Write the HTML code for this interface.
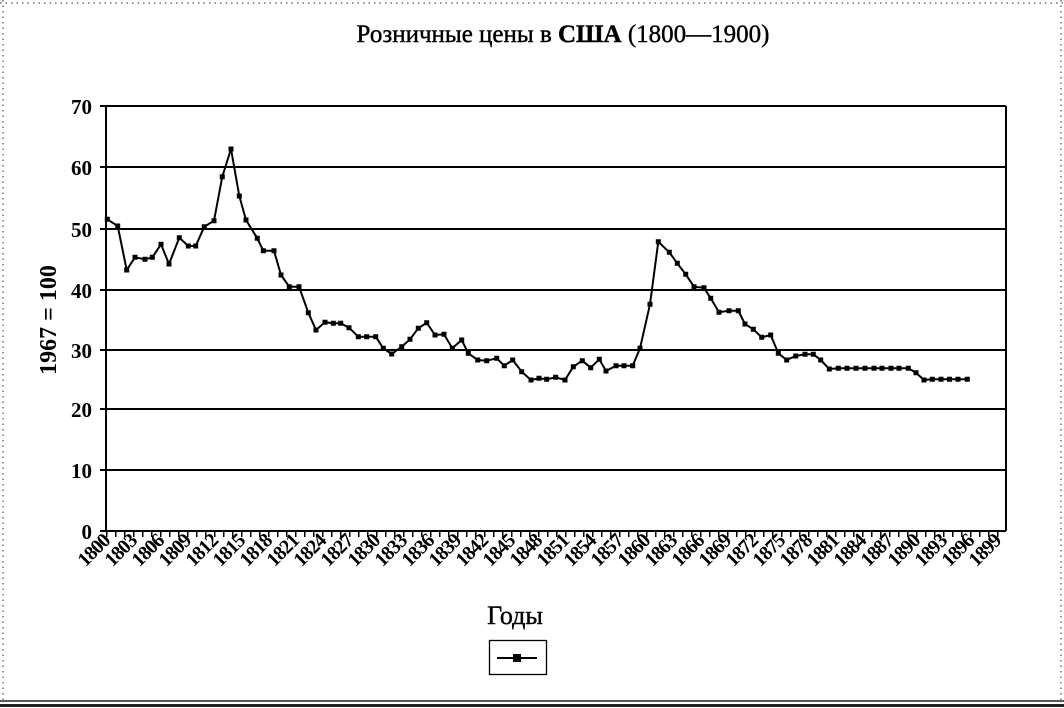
<!DOCTYPE html>
<html><head><meta charset="utf-8"><style>
html,body{margin:0;padding:0;background:#fff}
svg{display:block}
text{font-family:"Liberation Serif","DejaVu Serif",serif;fill:#000}
</style></head><body>
<svg width="1064" height="708" viewBox="0 0 1064 708" xmlns="http://www.w3.org/2000/svg">
<line x1="0" y1="3" x2="1064" y2="3" stroke="#555" stroke-width="1.2" stroke-dasharray="1.5 4"/>
<line x1="3" y1="0" x2="3" y2="700" stroke="#555" stroke-width="1.2" stroke-dasharray="1.5 4"/>
<line x1="1061" y1="0" x2="1061" y2="700" stroke="#555" stroke-width="1.2" stroke-dasharray="1.5 4"/>
<line x1="0" y1="701" x2="1064" y2="701" stroke="#222" stroke-width="1.5"/>
<line x1="0" y1="705.5" x2="1064" y2="705.5" stroke="#222" stroke-width="3"/>
<text x="563" y="42" font-size="25" text-anchor="middle" stroke="#000" stroke-width="0.4">Розничные цены в <tspan font-weight="bold">США</tspan> (1800—1900)</text>
<g stroke="#000" stroke-width="2">
<line x1="100" y1="106" x2="1006" y2="106"/>
<line x1="100" y1="167" x2="1006" y2="167"/>
<line x1="100" y1="229" x2="1006" y2="229"/>
<line x1="100" y1="290" x2="1006" y2="290"/>
<line x1="100" y1="350" x2="1006" y2="350"/>
<line x1="100" y1="409" x2="1006" y2="409"/>
<line x1="100" y1="470" x2="1006" y2="470"/>
<line x1="100" y1="531" x2="1006" y2="531"/>
<line x1="106" y1="106" x2="106" y2="531"/>
<line x1="1006" y1="106" x2="1006" y2="531"/>
</g>
<line x1="106" y1="534" x2="1006" y2="534" stroke="#000" stroke-width="6" stroke-dasharray="1.5 7.5"/>
<g font-size="21" font-weight="bold" text-anchor="end">
<text x="92" y="114">70</text><text x="92" y="175">60</text><text x="92" y="237">50</text>
<text x="92" y="298">40</text><text x="92" y="358">30</text><text x="92" y="417">20</text>
<text x="92" y="478">10</text><text x="92" y="539">0</text>
</g>
<text transform="translate(56,320) rotate(-90)" font-size="24" font-weight="bold" text-anchor="middle">1967 = 100</text>
<g font-size="20" font-weight="bold" text-anchor="end" letter-spacing="-1">
<text transform="translate(111,542) rotate(-45)">1800</text>
<text transform="translate(138,542) rotate(-45)">1803</text>
<text transform="translate(165,542) rotate(-45)">1806</text>
<text transform="translate(192,542) rotate(-45)">1809</text>
<text transform="translate(219,542) rotate(-45)">1812</text>
<text transform="translate(246,542) rotate(-45)">1815</text>
<text transform="translate(273,542) rotate(-45)">1818</text>
<text transform="translate(300,542) rotate(-45)">1821</text>
<text transform="translate(327,542) rotate(-45)">1824</text>
<text transform="translate(354,542) rotate(-45)">1827</text>
<text transform="translate(381,542) rotate(-45)">1830</text>
<text transform="translate(408,542) rotate(-45)">1833</text>
<text transform="translate(435,542) rotate(-45)">1836</text>
<text transform="translate(462,542) rotate(-45)">1839</text>
<text transform="translate(489,542) rotate(-45)">1842</text>
<text transform="translate(516,542) rotate(-45)">1845</text>
<text transform="translate(543,542) rotate(-45)">1848</text>
<text transform="translate(570,542) rotate(-45)">1851</text>
<text transform="translate(597,542) rotate(-45)">1854</text>
<text transform="translate(624,542) rotate(-45)">1857</text>
<text transform="translate(651,542) rotate(-45)">1860</text>
<text transform="translate(678,542) rotate(-45)">1863</text>
<text transform="translate(705,542) rotate(-45)">1866</text>
<text transform="translate(732,542) rotate(-45)">1869</text>
<text transform="translate(759,542) rotate(-45)">1872</text>
<text transform="translate(786,542) rotate(-45)">1875</text>
<text transform="translate(813,542) rotate(-45)">1878</text>
<text transform="translate(840,542) rotate(-45)">1881</text>
<text transform="translate(867,542) rotate(-45)">1884</text>
<text transform="translate(894,542) rotate(-45)">1887</text>
<text transform="translate(921,542) rotate(-45)">1890</text>
<text transform="translate(948,542) rotate(-45)">1893</text>
<text transform="translate(975,542) rotate(-45)">1896</text>
<text transform="translate(1002,542) rotate(-45)">1899</text>
</g>
<text x="515" y="624" font-size="26" text-anchor="middle" stroke="#000" stroke-width="0.4">Годы</text>
<rect x="489.5" y="640.5" width="57" height="34" fill="none" stroke="#000" stroke-width="1.3"/>
<line x1="497" y1="658" x2="537" y2="658" stroke="#000" stroke-width="2"/>
<rect x="513" y="654" width="8" height="8" fill="#000"/>
<polyline fill="none" stroke="#000" stroke-width="2" stroke-linejoin="round" points="107.3,219.3 117.7,226 126.7,270 135,257.3 145,259.3 152.3,257.3 161,244.3 169,264 179.3,237.7 188.3,246 195.7,246 204.3,226.7 214,220.7 222.3,176.7 231,149 239.3,196 246,220 257.3,238.3 263.3,250.7 274,250.7 281,275 289.3,286.7 299,286.7 308.3,312.7 316,330 325,322.3 333.3,323.3 340.7,323.3 349,327.7 358.3,336.7 366.7,336.7 375.7,336.7 383.3,348.3 391.7,354 401.7,346.7 410,339.3 418.3,328.3 426.7,322.7 435,335 444,334.3 452.3,348.3 461.7,340 468.3,353.3 477.7,360 486.7,360.7 496.7,358.3 504.3,365.7 512.7,360 521.7,371.7 531,380 539,378.3 546.7,379.3 555.7,377.3 565,380 573.3,366.7 582.3,360.7 590.7,367.7 599.3,359.3 606,371 616,365.7 624,365.7 632.7,365.7 640,348.3 650,304.3 658.3,241.7 669.3,252.3 677.3,263.3 685.7,274.3 694,286.7 704,287.7 710.7,298.3 719,312.3 729,310.7 738.3,310.7 745,324 753.3,329.3 761.7,337.3 770.7,335 778.3,353.3 786.7,360 795.7,356 805,354.3 813.3,354.3 820.7,360 829.3,369 838.3,368.3 847,368.3 856,368.3 865,368.3 874,368.3 882,368.3 891,368.3 899,368.3 908.3,368.3 916,372.7 924,380 932.3,379.3 941,379.3 949.5,379.3 958,379.3 967.3,379.3"/>
<path fill="#000" transform="translate(0.5,0.5)" d="M104.3,216.3h5v5h-5zM114.7,223h5v5h-5zM123.7,267h5v5h-5zM132,254.3h5v5h-5zM142,256.3h5v5h-5zM149.3,254.3h5v5h-5zM158,241.3h5v5h-5zM166,261h5v5h-5zM176.3,234.7h5v5h-5zM185.3,243h5v5h-5zM192.7,243h5v5h-5zM201.3,223.7h5v5h-5zM211,217.7h5v5h-5zM219.3,173.7h5v5h-5zM228,146h5v5h-5zM236.3,193h5v5h-5zM243,217h5v5h-5zM254.3,235.3h5v5h-5zM260.3,247.7h5v5h-5zM271,247.7h5v5h-5zM278,272h5v5h-5zM286.3,283.7h5v5h-5zM296,283.7h5v5h-5zM305.3,309.7h5v5h-5zM313,327h5v5h-5zM322,319.3h5v5h-5zM330.3,320.3h5v5h-5zM337.7,320.3h5v5h-5zM346,324.7h5v5h-5zM355.3,333.7h5v5h-5zM363.7,333.7h5v5h-5zM372.7,333.7h5v5h-5zM380.3,345.3h5v5h-5zM388.7,351h5v5h-5zM398.7,343.7h5v5h-5zM407,336.3h5v5h-5zM415.3,325.3h5v5h-5zM423.7,319.7h5v5h-5zM432,332h5v5h-5zM441,331.3h5v5h-5zM449.3,345.3h5v5h-5zM458.7,337h5v5h-5zM465.3,350.3h5v5h-5zM474.7,357h5v5h-5zM483.7,357.7h5v5h-5zM493.7,355.3h5v5h-5zM501.3,362.7h5v5h-5zM509.7,357h5v5h-5zM518.7,368.7h5v5h-5zM528,377h5v5h-5zM536,375.3h5v5h-5zM543.7,376.3h5v5h-5zM552.7,374.3h5v5h-5zM562,377h5v5h-5zM570.3,363.7h5v5h-5zM579.3,357.7h5v5h-5zM587.7,364.7h5v5h-5zM596.3,356.3h5v5h-5zM603,368h5v5h-5zM613,362.7h5v5h-5zM621,362.7h5v5h-5zM629.7,362.7h5v5h-5zM637,345.3h5v5h-5zM647,301.3h5v5h-5zM655.3,238.7h5v5h-5zM666.3,249.3h5v5h-5zM674.3,260.3h5v5h-5zM682.7,271.3h5v5h-5zM691,283.7h5v5h-5zM701,284.7h5v5h-5zM707.7,295.3h5v5h-5zM716,309.3h5v5h-5zM726,307.7h5v5h-5zM735.3,307.7h5v5h-5zM742,321h5v5h-5zM750.3,326.3h5v5h-5zM758.7,334.3h5v5h-5zM767.7,332h5v5h-5zM775.3,350.3h5v5h-5zM783.7,357h5v5h-5zM792.7,353h5v5h-5zM802,351.3h5v5h-5zM810.3,351.3h5v5h-5zM817.7,357h5v5h-5zM826.3,366h5v5h-5zM835.3,365.3h5v5h-5zM844,365.3h5v5h-5zM853,365.3h5v5h-5zM862,365.3h5v5h-5zM871,365.3h5v5h-5zM879,365.3h5v5h-5zM888,365.3h5v5h-5zM896,365.3h5v5h-5zM905.3,365.3h5v5h-5zM913,369.7h5v5h-5zM921,377h5v5h-5zM929.3,376.3h5v5h-5zM938,376.3h5v5h-5zM946.5,376.3h5v5h-5zM955,376.3h5v5h-5zM964.3,376.3h5v5h-5z"/>
</svg>
</body></html>
